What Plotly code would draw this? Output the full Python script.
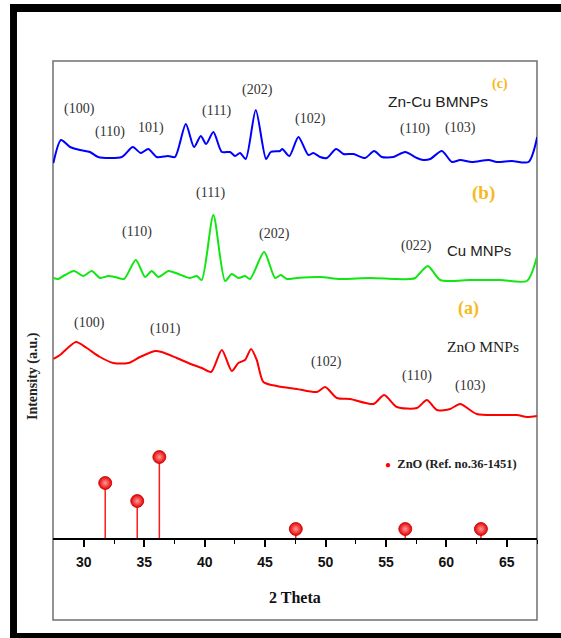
import plotly.graph_objects as go

# ---- XRD patterns (2θ in degrees, intensity in arbitrary units, stacked) ----
zncu_2theta = [27.48, 28.11, 28.86, 29.69, 30.51, 31.18, 33.14, 34.05, 34.71, 35.34,
               36.03, 36.97, 37.55, 38.44, 39.12, 39.68, 40.12, 40.72, 41.42, 42.10,
               42.52, 42.93, 43.40, 44.23, 45.08, 45.47, 46.24, 46.43, 47.01, 47.76,
               48.58, 49.00, 49.55, 50.11, 50.88, 51.48, 52.31, 53.28, 54.02, 54.66,
               55.62, 56.59, 57.56, 58.10, 58.66, 59.63, 60.46, 61.14, 62.11, 63.49,
               64.18, 65.42, 66.80, 67.52]
zncu_int = [375, 398, 391, 388, 386, 381, 381, 391, 385, 389,
            381, 382, 381, 414, 391, 402, 394, 406, 386, 386,
            382, 385, 379, 428, 379, 386, 387, 389, 382, 401,
            383, 385, 381, 380, 389, 384, 384, 380, 387, 381,
            381, 386, 380, 378, 379, 387, 376, 378, 376, 378,
            376, 377, 376, 401]

cu_2theta = [27.48, 27.89, 28.44, 29.19, 29.96, 30.65, 31.34, 32.03, 32.58, 33.33,
             34.30, 35.07, 35.62, 36.17, 37.00, 37.82, 38.79, 39.35, 39.76, 40.72,
             41.69, 42.24, 42.79, 43.34, 43.76, 44.92, 45.83, 46.30, 46.80, 47.62,
             49.55, 51.21, 53.69, 55.76, 57.00, 57.42, 58.47, 59.49, 61.97, 64.46,
             66.66, 67.49]
cu_int = [260, 259, 263, 267, 262, 267, 260, 262, 261, 259,
          278, 261, 267, 261, 267, 264, 260, 262, 258, 323,
          257, 264, 260, 262, 259, 286, 260, 263, 259, 260,
          261, 259, 260, 259, 259, 260, 272, 258, 258, 258,
          257, 281]

zno_2theta = [27.48, 28.03, 29.35, 30.24, 31.34, 32.44, 33.68, 34.65, 35.89, 36.45,
              37.69, 39.06, 39.76, 40.53, 41.42, 42.24, 42.79, 43.34, 43.84, 44.31,
              44.86, 45.97, 47.62, 49.28, 49.97, 50.94, 52.04, 53.97, 54.85, 55.90,
              57.56, 58.39, 59.21, 60.31, 61.14, 62.52, 64.45, 65.84, 66.66, 67.49]
zno_int = [179, 183, 196, 190, 181, 175, 175, 181, 187, 186,
           180, 173, 170, 166, 188, 167, 175, 178, 189, 178,
           156, 152, 149, 146, 151, 140, 139, 134, 143, 131,
           130, 138, 128, 129, 134, 124, 123, 123, 121, 122]

# ---- ZnO reference card 36-1451 (stick pattern) ----
ref_2theta = [31.77, 34.42, 36.25, 47.54, 56.60, 62.86]
ref_int = [55, 37, 81, 9, 9, 9]

# ---- peak labels: (text, 2θ, height) ----
zncu_labels = [("(100)", 29.64, 429), ("(110)", 32.17, 406), ("101)", 35.56, 410),
               ("(111)", 41.05, 427), ("(202)", 44.34, 448), ("(102)", 48.78, 419),
               ("(110)", 57.42, 409), ("(103)", 61.20, 410)]
cu_labels = [("(110)", 34.43, 306), ("(111)", 40.50, 345), ("(202)", 45.75, 304),
             ("(022)", 57.56, 292)]
zno_labels = [("(100)", 30.46, 215), ("(101)", 36.80, 209), ("(102)", 50.11, 176),
              ("(110)", 57.56, 162), ("(103)", 61.97, 152)]

sample_names = [("Zn-Cu BMNPs", 59.27, 437, "Liberation Sans", 15.5),
                ("Cu MNPs", 62.71, 288, "Liberation Sans", 15),
                ("ZnO MNPs", 63.05, 192, "Liberation Serif", 15.5)]
panel_tags = [("(c)", 64.45, 454, 14), ("(b)", 63.07, 345, 19), ("(a)", 61.83, 230, 18)]

x_ticks = [30, 35, 40, 45, 50, 55, 60, 65]

LABEL_FONT = "Liberation Serif"
TAG_COLOR = "#f7b820"

fig = go.Figure()

for xs, ys, col in [(zncu_2theta, zncu_int, "#0000ff"),
                    (cu_2theta, cu_int, "#11e611"),
                    (zno_2theta, zno_int, "#ff0000")]:
    fig.add_trace(go.Scatter(x=xs, y=ys, mode="lines",
                             line=dict(color=col, width=2, shape="spline", smoothing=0.7),
                             showlegend=False, hoverinfo="skip"))

# stems of the reference pattern
stem_x, stem_y = [], []
for t, h in zip(ref_2theta, ref_int):
    stem_x += [t, t, None]
    stem_y += [0, h, None]
fig.add_trace(go.Scatter(x=stem_x, y=stem_y, mode="lines",
                         line=dict(color="#ff1a1a", width=1.5),
                         showlegend=False, hoverinfo="skip"))
fig.add_trace(go.Scatter(x=ref_2theta, y=ref_int, mode="markers",
                         marker=dict(size=13, color="#e80000",
                                     gradient=dict(type="radial", color="#ff9a9a"),
                                     line=dict(color="#c00000", width=0.8)),
                         showlegend=False, hoverinfo="skip"))

annotations = []
for group in (zncu_labels, cu_labels, zno_labels):
    for txt, x, y in group:
        annotations.append(dict(x=x, y=y, text=txt, showarrow=False,
                                font=dict(family=LABEL_FONT, size=14, color="#333333")))
for txt, x, y, fam, sz in sample_names:
    annotations.append(dict(x=x, y=y, text=txt, showarrow=False,
                            font=dict(family=fam, size=sz, color="#222222")))
for txt, x, y, sz in panel_tags:
    annotations.append(dict(x=x, y=y, text="<b>" + txt + "</b>", showarrow=False,
                            font=dict(family=LABEL_FONT, size=sz, color=TAG_COLOR)))

# legend entry for the reference card
annotations.append(dict(xref="paper", yref="paper", x=0.682, y=0.155, xanchor="left",
                        yanchor="middle", showarrow=False,
                        text="<span style='color:#ff0000;font-size:10px'>●</span>"
                             "  <b>ZnO (Ref. no.36-1451)</b>",
                        font=dict(family=LABEL_FONT, size=12.5, color="#222222")))
# axis titles
annotations.append(dict(xref="paper", yref="paper", x=-0.0413, y=0.3396,
                        xanchor="center", yanchor="middle",
                        text="<b>Intensity (a.u.)</b>", textangle=-90, showarrow=False,
                        font=dict(family=LABEL_FONT, size=14, color="#222222")))
annotations.append(dict(xref="paper", yref="paper", x=0.501, y=-0.1237,
                        xanchor="center", yanchor="middle",
                        text="<b>2 Theta</b>", showarrow=False,
                        font=dict(family=LABEL_FONT, size=16, color="#111111")))

shapes = [
    # grey panel frame
    dict(type="rect", xref="paper", yref="paper", x0=0, x1=1, y0=-0.1719, y1=1,
         line=dict(color="#707070", width=1.5), layer="below"),
    # heavy black page border (left, top, bottom)
    dict(type="rect", xref="paper", yref="paper", x0=-0.0888, x1=-0.0744,
         y0=-0.2096, y1=1.1195, fillcolor="black", line=dict(width=0)),
    dict(type="rect", xref="paper", yref="paper", x0=-0.0888, x1=1.06,
         y0=1.1027, y1=1.1195, fillcolor="black", line=dict(width=0)),
    dict(type="rect", xref="paper", yref="paper", x0=-0.0888, x1=1.06,
         y0=-0.2096, y1=-0.1992, fillcolor="black", line=dict(width=0)),
]

fig.update_layout(
    width=561, height=638,
    margin=dict(l=53, r=24, t=61, b=100),
    paper_bgcolor="white", plot_bgcolor="white",
    showlegend=False,
    annotations=annotations,
    shapes=shapes,
    xaxis=dict(range=[27.45, 67.5], tickvals=x_ticks, ticks="outside", ticklen=7,
               tickwidth=1.5, tickcolor="black", showline=True, linecolor="black",
               linewidth=1.5, showgrid=False, zeroline=False, ticklabelstandoff=3,
               tickfont=dict(family="Liberation Sans Narrow, Liberation Sans", size=14,
                             color="#111111", weight="bold"),
               minor=dict(tickvals=[32.5, 37.5, 42.5, 47.5, 52.5, 57.5, 62.5, 67.5],
                          ticks="outside", ticklen=4, tickwidth=1.2, tickcolor="black")),
    yaxis=dict(range=[0, 477], showticklabels=False, ticks="", showgrid=False,
               zeroline=False, showline=False),
)

fig.write_html("out.html")
